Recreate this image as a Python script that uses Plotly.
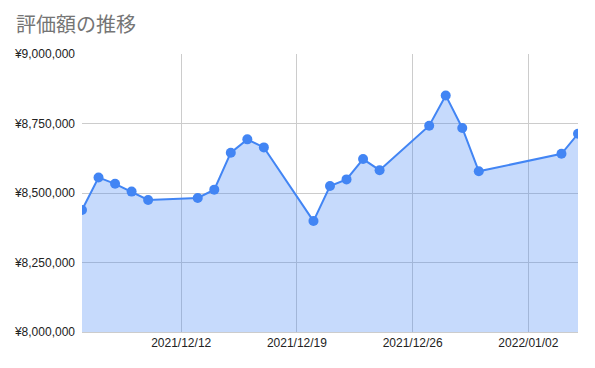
import plotly.graph_objects as go

dates = ["2021-12-06", "2021-12-07", "2021-12-08", "2021-12-09", "2021-12-10",
         "2021-12-13", "2021-12-14", "2021-12-15", "2021-12-16", "2021-12-17",
         "2021-12-20", "2021-12-21", "2021-12-22", "2021-12-23", "2021-12-24",
         "2021-12-27", "2021-12-28", "2021-12-29", "2021-12-30",
         "2022-01-04", "2022-01-05"]
values = [8439000, 8556000, 8533000, 8505000, 8475000,
          8482000, 8512000, 8645000, 8693000, 8664000,
          8399000, 8525000, 8549000, 8622000, 8582000,
          8742000, 8851000, 8734000, 8578000,
          8641000, 8713000]

x_tickvals = ["2021-12-12", "2021-12-19", "2021-12-26", "2022-01-02"]
x_ticktext = ["2021/12/12", "2021/12/19", "2021/12/26", "2022/01/02"]
y_tickvals = [8000000, 8250000, 8500000, 8750000, 9000000]
y_ticktext = ["¥8,000,000", "¥8,250,000", "¥8,500,000", "¥8,750,000", "¥9,000,000"]

fig = go.Figure()
fig.add_trace(go.Scatter(
    x=dates, y=values, mode="lines+markers",
    line=dict(color="#4285f4", width=2),
    marker=dict(color="#4285f4", size=10),
    fill="tozeroy", fillcolor="rgba(66,133,244,0.3)",
    showlegend=False,
))

fig.update_layout(
    width=595, height=368,
    margin=dict(l=82, r=17, t=54, b=36),
    paper_bgcolor="white", plot_bgcolor="white",
    font=dict(family="Liberation Sans, Arial", size=12, color="#222222"),
    title=dict(text="評価額の推移", x=16/595, xref="container", xanchor="left",
               y=1-25/368, yref="container", yanchor="middle",
               font=dict(family="Noto Sans CJK JP", size=20, color="#757575")),
    xaxis=dict(range=["2021-12-06", "2022-01-05"], tickvals=x_tickvals, ticktext=x_ticktext,
               showgrid=True, gridcolor="#cccccc", gridwidth=1, zeroline=False,
               showline=True, linecolor="#cccccc", ticks="", tickfont=dict(size=12, color="#222222")),
    yaxis=dict(range=[8000000, 9000000], tickvals=y_tickvals, ticktext=y_ticktext,
               showgrid=True, gridcolor="#cccccc", gridwidth=1, zeroline=False,
               ticks="", ticklabelstandoff=6, tickfont=dict(size=12, color="#222222")),
)

fig.write_html("out.html")
